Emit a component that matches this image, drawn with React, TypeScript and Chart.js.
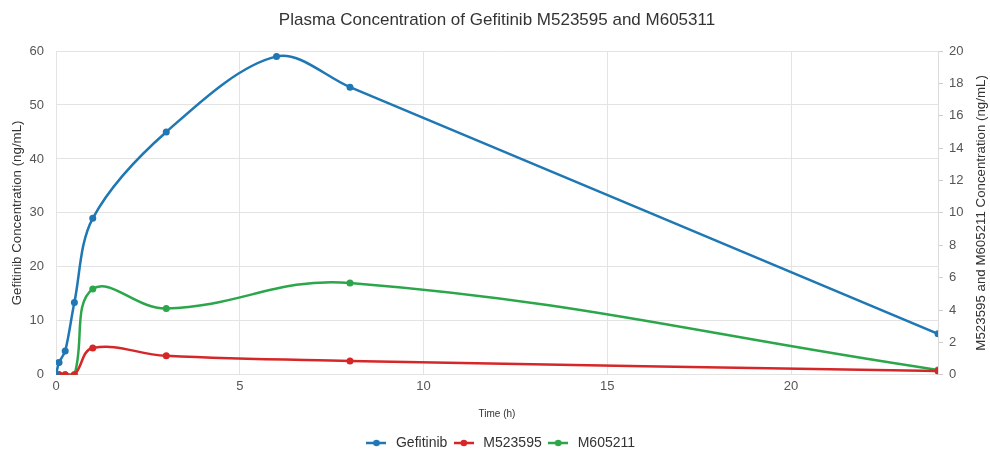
import React, { useEffect, useRef } from "react";
import { Chart, registerables } from "chart.js";

Chart.register(...registerables);

const timeHours = [0, 0.083, 0.25, 0.5, 1, 3, 6, 8, 24];
const gefitinib = [0, 2.3, 4.4, 13.4, 29.0, 45.0, 59.0, 53.3, 7.6];
const m523595Times = [0, 0.083, 0.25, 0.5, 1, 3, 8, 24];
const m523595 = [0, 0, 0, 0, 1.65, 1.17, 0.86, 0.23];
const m605211Times = [0, 0.083, 0.25, 0.5, 1, 3, 8, 24];
const m605211 = [0, 0, 0, 0, 5.3, 4.1, 5.67, 0.3];
const xTicks = [0, 5, 10, 15, 20];

const TITLE = "Plasma Concentration of Gefitinib M523595 and M605311";
const LEFT_TITLE = "Gefitinib Concentration (ng/mL)";
const RIGHT_TITLE = "M523595 and M605211 Concentration (ng/mL)";

const BLUE = "#1f77b4";
const RED = "#d62728";
const GREEN = "#2ca64a";
const FONT = "'Liberation Sans', Arial, sans-serif";

function legendIcon(color: string): HTMLCanvasElement {
  const c = document.createElement("canvas");
  c.width = 20;
  c.height = 8;
  const ctx = c.getContext("2d")!;
  ctx.strokeStyle = color;
  ctx.lineWidth = 2.5;
  ctx.beginPath();
  ctx.moveTo(0, 4);
  ctx.lineTo(20, 4);
  ctx.stroke();
  ctx.fillStyle = color;
  ctx.beginPath();
  ctx.arc(10, 4, 3.3, 0, Math.PI * 2);
  ctx.fill();
  return c;
}

const rightTitlePlugin = {
  id: "rightTitle",
  afterDraw(chart: any) {
    const { ctx, chartArea } = chart;
    ctx.save();
    ctx.translate(981, (chartArea.top + chartArea.bottom) / 2);
    ctx.rotate(-Math.PI / 2);
    ctx.fillStyle = "#333";
    ctx.font = `13.3px ${FONT}`;
    ctx.textAlign = "center";
    ctx.textBaseline = "middle";
    ctx.fillText(RIGHT_TITLE, 0, 0);
    ctx.restore();
  },
};

export default function App() {
  const ref = useRef<HTMLCanvasElement | null>(null);

  useEffect(() => {
    document.body.style.margin = "0";
    const canvas = ref.current;
    if (!canvas) return;
    const mk = (xs: number[], ys: number[]) => xs.map((x, i) => ({ x, y: ys[i] }));
    const ds = (label: string, data: any[], color: string, axis: string, tension: number) => ({
      label,
      data,
      borderColor: color,
      backgroundColor: color,
      borderWidth: 2.5,
      pointRadius: 3.5,
      pointBorderWidth: 0,
      pointHoverRadius: 3.5,
      tension,
      yAxisID: axis,
      pointStyle: "circle",
      _icon: legendIcon(color),
    });
    const chart = new Chart(canvas, {
      type: "line",
      data: {
        datasets: [
          ds("Gefitinib", mk(timeHours, gefitinib), BLUE, "y", 0.33),
          ds("M523595", mk(m523595Times, m523595), RED, "y2", 0.4),
          ds("M605211", mk(m605211Times, m605211), GREEN, "y2", 0.4),
        ] as any,
      },
      plugins: [rightTitlePlugin],
      options: {
        responsive: false,
        animation: false,
        layout: { padding: { top: 10, bottom: -10, left: 9, right: 0 } },
        plugins: {
          title: {
            display: true,
            fullSize: false,
            text: TITLE,
            color: "#333",
            font: { family: FONT, size: 17, weight: "normal" },
            padding: { top: 0, bottom: 20.6 },
          },
          legend: {
            position: "bottom",
            labels: {
              color: "#333",
              font: { family: FONT, size: 14 },
              usePointStyle: true,
              pointStyleWidth: 25,
              padding: 4,
              generateLabels: (ch: any) =>
                ch.data.datasets.map((d: any, i: number) => ({
                  text: d.label,
                  fillStyle: d.borderColor,
                  strokeStyle: d.borderColor,
                  lineWidth: 0,
                  pointStyle: d._icon,
                  datasetIndex: i,
                  hidden: false,
                  fontColor: "#333",
                })),
            },
          },
          tooltip: { enabled: false },
        },
        scales: {
          x: {
            type: "linear",
            min: 0,
            max: 24,
            afterBuildTicks: (s: any) => {
              s.ticks = xTicks.map((v) => ({ value: v }));
            },
            grid: { color: "#e3e3e3", drawTicks: false },
            border: { color: "#e3e3e3" },
            ticks: { color: "#555", font: { family: FONT, size: 13 }, padding: 4 },
            title: {
              display: true,
              text: "Time (h)",
              color: "#333",
              font: { family: FONT, size: 10 },
              padding: { top: 9.4, bottom: 12.2 },
            },
          },
          y: {
            position: "left",
            min: 0,
            max: 60,
            ticks: { stepSize: 10, color: "#555", font: { family: FONT, size: 13 }, padding: 12 },
            grid: { color: "#e3e3e3", drawTicks: false },
            border: { color: "#e3e3e3" },
            title: {
              display: true,
              text: LEFT_TITLE,
              color: "#333",
              font: { family: FONT, size: 13.3 },
              padding: { top: 0, bottom: 0 },
            },
            afterFit: (s: any) => {
              s.width = 47;
            },
          },
          y2: {
            position: "right",
            min: 0,
            max: 20,
            ticks: { stepSize: 2, color: "#555", font: { family: FONT, size: 13 }, padding: 6 },
            grid: { drawOnChartArea: false, color: "#cfcfcf", tickLength: 5 },
            border: { color: "#dcdcdc" },
            afterFit: (s: any) => {
              s.width = 52;
            },
          },
        },
      } as any,
    });
    return () => chart.destroy();
  }, []);

  return (
    <div style={{ width: 990, height: 450, background: "#fff" }}>
      <canvas ref={ref} width={990} height={450} style={{ display: "block" }} />
    </div>
  );
}
